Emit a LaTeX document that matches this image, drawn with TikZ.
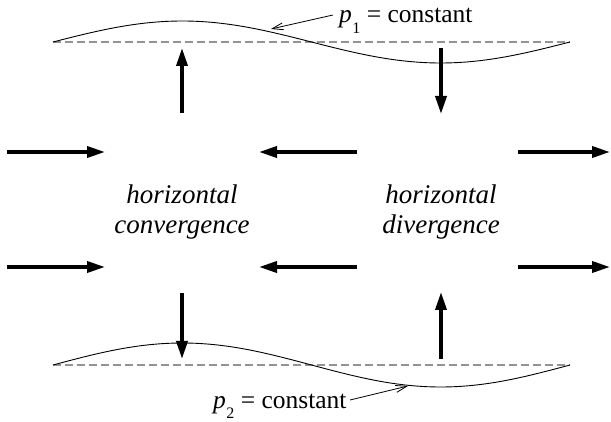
\documentclass[tikz,border=0pt]{standalone}
\usepackage{fontspec}
\setmainfont{Liberation Serif}
\newfontfamily\timesfont{Liberation Serif}
\usetikzlibrary{arrows.meta}
\newcommand{\psub}[1]{\textit{p}\kern0.02em\raisebox{-0.42em}{\fontsize{16}{16}\selectfont #1}}
\tikzset{
  bigarrow/.style={line width=4.6pt,-{Triangle[length=19pt,width=10.5pt]}},
  surface/.style={line width=0.9pt,black},
  reference/.style={line width=1.4pt,gray!85,dash pattern=on 7.5pt off 4.5pt},
  leader/.style={line width=0.8pt,-{Straight Barb[length=11pt,width=7pt]}},
  label/.style={font=\timesfont\fontsize{25.5}{28}\selectfont,inner sep=0pt,anchor=base west},
  region/.style={font=\timesfont\fontsize{27}{30}\selectfont\itshape,align=center,inner sep=0pt}
}
\begin{document}
\begin{tikzpicture}[x=1pt,y=-1pt]
\useasboundingbox (0,0) rectangle (611,422);
% reference (constant-height) lines
\draw[reference] (53,42) -- (570,42);
\draw[reference] (53,365) -- (570,365);
% isobaric surfaces
\draw[surface] plot[domain=0:517,samples=120,smooth] ({53+\x},{42-21*sin(\x/517*360)});
\draw[surface] plot[domain=0:517,samples=120,smooth] ({53+\x},{365-22*sin(\x/517*360)});
% labels
\node[label] (p1) at (339,23) {\psub{1} = constant};
\node[label] (p2) at (213,408) {\psub{2} = constant};
\coordinate (l1s) at (333,15); \coordinate (l1e) at (271,29);
\coordinate (l2s) at (350,400); \coordinate (l2e) at (408,386);
\draw[leader] (l1s) -- (l1e);
\draw[leader] (l2s) -- (l2e);
% region texts
\node[region] (conv) at (182,212) {horizontal\\convergence};
\node[region] (div) at (441,212) {horizontal\\divergence};
% horizontal arrows
\foreach \r/\y in {a/152,b/267}{
  \coordinate (L\r s) at (7,\y);   \coordinate (L\r e) at (106,\y);
  \coordinate (M\r s) at (357,\y); \coordinate (M\r e) at (258,\y);
  \coordinate (R\r s) at (518,\y); \coordinate (R\r e) at (611,\y);
  \draw[bigarrow] (L\r s) -- (L\r e);
  \draw[bigarrow] (M\r s) -- (M\r e);
  \draw[bigarrow] (R\r s) -- (R\r e);
}
% vertical arrows
\coordinate (TLs) at (182,113); \coordinate (TLe) at (182,47);
\coordinate (TRs) at (441,48);  \coordinate (TRe) at (441,115);
\coordinate (BLs) at (182,293); \coordinate (BLe) at (182,360);
\coordinate (BRs) at (441,359); \coordinate (BRe) at (441,291);
\draw[bigarrow] (TLs) -- (TLe);
\draw[bigarrow] (TRs) -- (TRe);
\draw[bigarrow] (BLs) -- (BLe);
\draw[bigarrow] (BRs) -- (BRe);
\end{tikzpicture}
\end{document}
